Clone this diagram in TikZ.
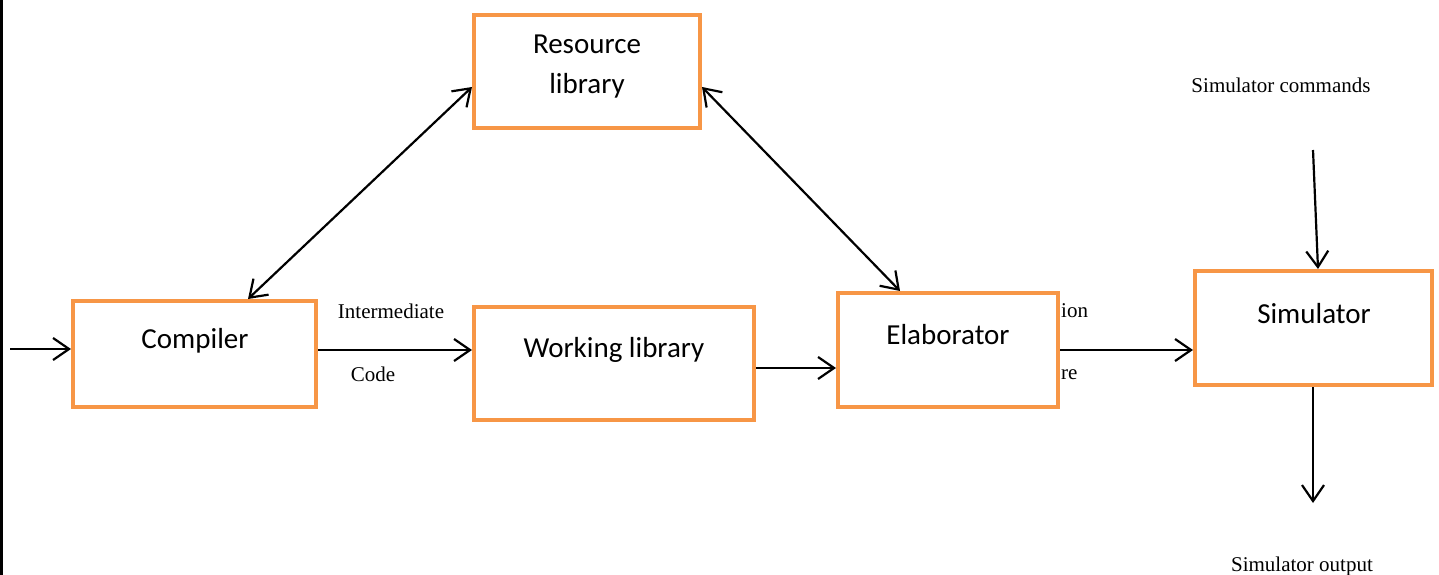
\documentclass[tikz,border=0pt]{standalone}
\usepackage{fontspec}
\setmainfont{Liberation Serif}
\newfontfamily\boxfont{Carlito}
\usetikzlibrary{arrows.meta,calc}
\definecolor{boxorange}{HTML}{F79646}
\begin{document}
\begin{tikzpicture}[x=1pt,y=-1pt,
  blk/.style={draw=boxorange,line width=4pt,rectangle,inner sep=0pt},
  btxt/.style={font=\boxfont\fontsize{29}{35}\selectfont,inner sep=0pt,align=center},
  stxt/.style={font=\fontsize{21}{25}\selectfont,inner sep=0pt},
  arr/.style={line width=2.2pt,-{Straight Barb[length=16pt,width=22pt,line width=2.2pt]}},
  darr/.style={line width=2.2pt,{Straight Barb[length=16pt,width=22pt,line width=2.2pt]}-{Straight Barb[length=16pt,width=22pt,line width=2.2pt]}}]
\useasboundingbox (0,0) rectangle (1439,575);
\fill[black] (0,0) rectangle (3,575);
% boxes
\node[blk,minimum width=226pt,minimum height=113pt] (res) at (587,71.5) {};
\node[blk,minimum width=243pt,minimum height=106pt] (comp) at (194.5,354) {};
\node[blk,minimum width=280pt,minimum height=113pt] (wl) at (614,363.5) {};
\node[blk,minimum width=220pt,minimum height=114pt] (elab) at (948,350) {};
\node[blk,minimum width=237pt,minimum height=114pt] (sim) at (1313.5,328) {};
% box texts
\node[btxt] (rest1) at (587,44) {Resource};
\node[btxt] (rest2) at (587,86) {library};
\node[btxt] (compt) at (195,341) {Compiler};
\node[btxt] (wlt) at (614,350) {Working library};
\node[btxt] (elabt) at (948,335) {Elaborator};
\node[btxt] (simt) at (1314,314) {Simulator};
% small labels
\node[stxt] (inter) at (391,311) {Intermediate};
\node[stxt] (code) at (373,374) {Code};
\node[stxt,anchor=west] (ion) at (1061,311) {ion};
\node[stxt,anchor=west] (re) at (1061,375) {re};
\node[stxt] (cmdt) at (1281,85) {Simulator commands};
\node[stxt] (outt) at (1302,566) {Simulator output};
% connectors
\coordinate (in) at (10,349);
\coordinate (cmd) at (1313,150);
\coordinate (out) at (1313,503);
\draw[arr] (in) -- (comp.west |- in);
\draw[arr] (comp.east |- 0,350) -- (wl.west |- 0,350);
\draw[arr] (wl.east |- 0,368) -- (elab.west |- 0,368);
\draw[arr] (elab.east |- 0,350) -- (sim.west |- 0,350);
\draw[arr] (cmd) -- ($(sim.north)+(4.5,0)$);
\draw[arr] (sim.south -| out) -- (out);
\draw[darr] ($(comp.north)+(53.5,0)$) -- ($(res.west)+(0,15.5)$);
\draw[darr] ($(res.east)+(0,15.5)$) -- ($(elab.north)+(-48,0)$);
\end{tikzpicture}
\end{document}
